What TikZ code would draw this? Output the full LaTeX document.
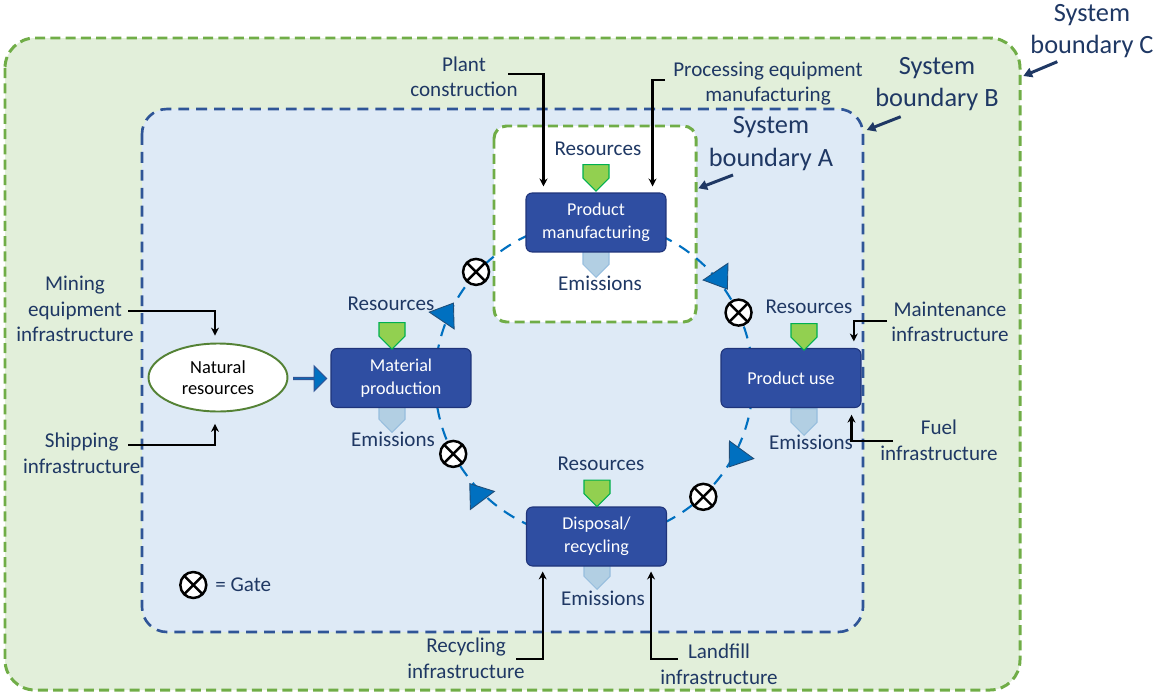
\documentclass[tikz,border=0pt]{standalone}
\usepackage{fontspec}
\setmainfont{Carlito}
\usepackage{tikz}
\usetikzlibrary{shapes.geometric, shapes.symbols, shapes.arrows, arrows.meta, calc}

\definecolor{navy}{RGB}{31,56,100}
\definecolor{boxblue}{RGB}{47,78,162}
\definecolor{boxedge}{RGB}{31,52,122}
\definecolor{fillB}{RGB}{222,234,246}
\definecolor{dashB}{RGB}{47,85,151}
\definecolor{fillC}{RGB}{226,239,218}
\definecolor{dashC}{RGB}{112,173,71}
\definecolor{loopblue}{RGB}{0,112,192}
\definecolor{loopedge}{RGB}{31,78,121}
\definecolor{resgreen}{RGB}{146,208,80}
\definecolor{resedge}{RGB}{0,176,80}
\definecolor{emiblue}{RGB}{178,207,227}
\definecolor{emiedge}{RGB}{150,190,222}
\definecolor{natedge}{RGB}{84,130,53}

\begin{document}
\begin{tikzpicture}[x=0.02cm, y=0.02cm,
    bndC/.style={draw=dashC, fill=fillC, line width=1.7pt, dash pattern=on 5.7pt off 3pt, rounded corners=0.6cm},
    bndB/.style={draw=dashB, fill=fillB, line width=1.5pt, dash pattern=on 6.2pt off 4pt, rounded corners=0.5cm},
    bndA/.style={draw=dashC, fill=white, line width=1.7pt, dash pattern=on 5.7pt off 3pt, rounded corners=0.25cm},
    loopline/.style={draw=loopblue, line width=1.2pt, dash pattern=on 7pt off 5pt},
    stage/.style={draw=boxedge, fill=boxblue, line width=0.6pt, rounded corners=3.4pt, minimum width=2.8cm, minimum height=1.18cm, text=white, align=center, font=\fontsize{10.3}{12.8}\selectfont},
    natural/.style={ellipse, draw=natedge, fill=white, line width=1.1pt, minimum width=2.78cm, minimum height=1.36cm, inner sep=0pt, align=center, font=\fontsize{10.5}{12.3}\selectfont},
    lbl/.style={text=navy, align=center, inner sep=0pt, font=\fontsize{12}{14.5}\selectfont},
    bndlbl/.style={text=navy, align=center, inner sep=0pt, font=\fontsize{15}{18.3}\selectfont},
    resmark/.style={signal, signal to=south, signal from=nowhere, signal pointer angle=90, fill=resgreen, draw=resedge, line width=0.6pt, minimum width=0.52cm, minimum height=0.27cm, inner sep=0pt},
    emimark/.style={resmark, fill=emiblue, draw=emiedge},
    gate/.style={circle, draw=black, fill=white, line width=1.4pt, minimum size=0.52cm, inner sep=0pt,
        path picture={\draw[line width=1.4pt] (path picture bounding box.north west) -- (path picture bounding box.south east)
            (path picture bounding box.north east) -- (path picture bounding box.south west);}},
    flowtip/.style={isosceles triangle, isosceles triangle stretches, fill=loopblue, draw=loopedge, line width=0.5pt, minimum width=0.6cm, minimum height=0.42cm, inner sep=0pt},
    blockarr/.style={single arrow, fill=loopblue, draw=dashB, line width=0.6pt, minimum height=0.66cm, minimum width=0.5cm, single arrow head extend=0.12cm, inner sep=0pt},
    feed/.style={-{Stealth[length=4.5pt,width=4.5pt]}, line width=1.3pt, black},
    bndptr/.style={-{Triangle[length=5pt,width=5.5pt]}, line width=1.7pt, navy},
]
    \useasboundingbox (0,0) rectangle (1156,-693);

    % system boundaries C, B, A
    \draw[bndC] (5,-38) rectangle (1020,-690);
    \draw[bndB] (142,-109) rectangle (863,-632);
    \draw[bndA] (494,-126) rectangle (696,-322);

    % life cycle loop
    \coordinate (hub) at (594,-380);
    \draw[loopline] (hub) circle[radius=159];

    % emissions below the stages
    \node[emimark, anchor=south] (pmemi) at (596,-278) {};
    \node[emimark, anchor=south] (mpemi) at (392,-433) {};
    \node[emimark, anchor=south] (puemi) at (804,-436) {};
    \node[emimark, anchor=south] (dremi) at (597,-590) {};

    % stages
    \node[stage] (pm) at (596,-222.5) {Product\\manufacturing};
    \node[stage] (mp) at (401,-378) {Material\\production};
    \node[stage] (pu) at (791,-378) {Product use};
    \node[stage] (dr) at (596.5,-536.5) {Disposal/\\recycling};
    \node[natural] (natres) at (218,-377.5) {Natural\\resources};
    \node[blockarr, anchor=west] (natarr) at (293,-378.5) {};

    % resources above the stages
    \node[resmark, anchor=north] (pmres) at (596,-164) {};
    \node[resmark, anchor=north] (mpres) at (392,-322) {};
    \node[resmark, anchor=north] (pures) at (804,-323) {};
    \node[resmark, anchor=north] (drres) at (597,-479.5) {};

    \node[lbl, anchor=base] (pmrestxt) at (598,-155) {Resources};
    \node[lbl, anchor=base] (pmemitxt) at (600,-290) {Emissions};
    \node[lbl, anchor=base] (mprestxt) at (391,-310) {Resources};
    \node[lbl, anchor=base] (mpemitxt) at (393,-446.5) {Emissions};
    \node[lbl, anchor=base] (purestxt) at (809,-313) {Resources};
    \node[lbl, anchor=base] (puemitxt) at (811,-449) {Emissions};
    \node[lbl, anchor=base] (drrestxt) at (601,-470.5) {Resources};
    \node[lbl, anchor=base] (dremitxt) at (603,-605.5) {Emissions};

    % gates and flow direction on the loop
    \begin{scope}[shift={(hub)}]
        \node[gate] (gate1) at (137.5:160) {};
        \node[gate] (gate2) at (25:159.5) {};
        \node[gate] (gate3) at (-46.9:160) {};
        \node[gate] (gate4) at (-152.3:159) {};
        \node[flowtip, rotate=56] (tip1) at (156:162) {};
        \node[flowtip, rotate=-56] (tip2) at (39:162) {};
        \node[flowtip, rotate=-126] (tip3) at (-28:162) {};
        \node[flowtip, rotate=127] (tip4) at (224.5:163) {};
    \end{scope}

    % infrastructure feeding the stages
    \node[lbl, anchor=base] (plant) at (464,-96.7) {Plant\\construction};
    \node[lbl, anchor=base] (proc) at (768,-101.7) {Processing equipment\\manufacturing};
    \node[lbl, anchor=base] (mine) at (75,-341.7) {Mining\\equipment\\infrastructure};
    \node[lbl, anchor=base] (ship) at (81.7,-473.3) {Shipping\\infrastructure};
    \node[lbl, anchor=base] (maint) at (950,-341.7) {Maintenance\\infrastructure};
    \node[lbl, anchor=base] (fuel) at (939,-460) {Fuel\\infrastructure};
    \node[lbl, anchor=base] (recyc) at (466,-678.3) {Recycling\\infrastructure};
    \node[lbl, anchor=base] (landf) at (719,-684) {Landfill\\infrastructure};

    \coordinate (plantin) at (508,-74);
    \coordinate (procin) at (665,-80);
    \coordinate (minein) at (128,-311);
    \coordinate (shipin) at (128,-445);
    \coordinate (maintin) at (887,-321);
    \coordinate (fuelin) at (893,-441);
    \coordinate (recycin) at (516,-659);
    \coordinate (landfin) at (678,-659);

    \draw[feed] (plantin) -| ($(pm.north west)+(18,6)$);
    \draw[feed] (procin) -| ($(pm.north east)+(-14,6)$);
    \draw[feed] (minein) -| ($(natres.north)+(-3,7)$);
    \draw[feed] (shipin) -| ($(natres.south)+(-3,-11.5)$);
    \draw[feed] (maintin) -| ($(pu.north east)+(-7.7,6.6)$);
    \draw[feed] (fuelin) -| ($(pu.south east)+(-10,-6.7)$);
    \draw[feed] (recycin) -| ($(dr.south west)+(16.7,-5)$);
    \draw[feed] (landfin) -| ($(dr.south east)+(-16,-5)$);

    % boundary labels
    \node[bndlbl, anchor=base] (labA) at (771,-166) {System\\boundary A};
    \node[bndlbl, anchor=base] (labB) at (937,-106.7) {System\\boundary B};
    \node[bndlbl, anchor=base] (labC) at (1092,-53.3) {System\\boundary C};
    \coordinate (ptrA) at (733,-175);
    \coordinate (ptrB) at (900.7,-116.7);
    \coordinate (ptrC) at (1057.3,-61.7);
    \draw[bndptr] (ptrA) -- (698.3,-188.3);
    \draw[bndptr] (ptrB) -- (866.7,-130);
    \draw[bndptr] (ptrC) -- (1023.3,-76);

    % legend
    \node[gate] (keygate) at (193.3,-585) {};
    \node[lbl, anchor=base west] (keytxt) at (215,-591) {= Gate};
\end{tikzpicture}
\end{document}
